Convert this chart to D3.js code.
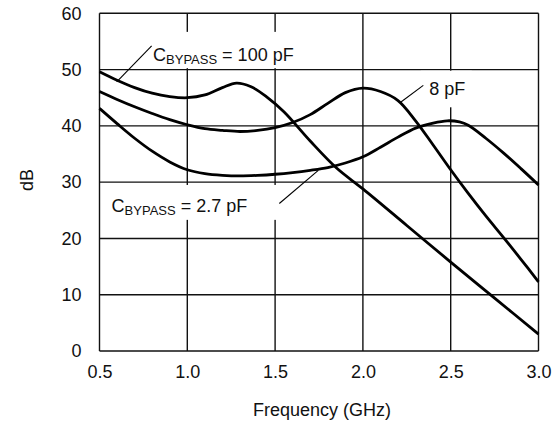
<!DOCTYPE html>
<html>
<head>
<meta charset="utf-8">
<script src="https://cdn.jsdelivr.net/npm/d3@7"></script>
<style>
  html, body { margin: 0; padding: 0; background: #fff; }
  svg { display: block; }
  text { font-family: "Liberation Sans Narrow", "Arial Narrow", "Liberation Sans", Arial, sans-serif; fill: #111; }
</style>
</head>
<body>
<svg id="chart" width="558" height="427"></svg>
<script>
// ---- data ----
const xTicks = [0.5, 1.0, 1.5, 2.0, 2.5, 3.0];
const yTicks = [0, 10, 20, 30, 40, 50, 60];

const freq100 = [0.5, 0.6, 0.7, 0.8, 0.9, 1.0, 1.1, 1.2, 1.28, 1.36, 1.45, 1.55, 1.7, 1.85, 2.0, 2.25, 2.5, 2.75, 3.0];
const db100   = [49.6, 48.1, 46.8, 45.8, 45.2, 45.0, 45.5, 46.8, 47.6, 47.0, 45.2, 42.5, 37.3, 32.5, 28.8, 22.3, 15.8, 9.4, 3.0];

const freq8 = [0.5, 0.6, 0.7, 0.8, 0.9, 1.0, 1.1, 1.2, 1.3, 1.4, 1.5, 1.6, 1.7, 1.8, 1.9, 2.0, 2.1, 2.2, 2.3, 2.4, 2.5, 2.6, 2.7, 2.8, 2.9, 3.0];
const db8   = [46.1, 44.7, 43.4, 42.2, 41.1, 40.2, 39.5, 39.2, 39.0, 39.2, 39.7, 40.6, 42.0, 44.0, 45.9, 46.7, 46.1, 44.5, 40.9, 36.6, 32.2, 28.0, 24.0, 20.2, 16.3, 12.3];

const freq27 = [0.5, 0.6, 0.7, 0.8, 0.9, 1.0, 1.1, 1.2, 1.3, 1.4, 1.5, 1.6, 1.7, 1.8, 1.9, 2.0, 2.1, 2.2, 2.3, 2.4, 2.48, 2.55, 2.6, 2.7, 2.8, 2.9, 3.0];
const db27   = [43.1, 40.4, 37.8, 35.5, 33.6, 32.2, 31.5, 31.2, 31.1, 31.2, 31.4, 31.7, 32.1, 32.6, 33.4, 34.5, 36.2, 38.0, 39.6, 40.5, 40.9, 40.7, 40.1, 37.8, 35.2, 32.4, 29.5];

const seriesNames = ["100 pF", "8 pF", "2.7 pF"];

// ---- layout ----
const FS = 18;
const svg = d3.select("#chart");
const x = d3.scaleLinear().domain([0.5, 3.0]).range([99.5, 538.5]);
const y = d3.scaleLinear().domain([0, 60]).range([351, 13.3]);

const gridStroke = "#111";

// grid
const grid = svg.append("g");
grid.selectAll("line.v").data(xTicks).join("line")
  .attr("x1", d => x(d)).attr("x2", d => x(d))
  .attr("y1", y(0)).attr("y2", y(60))
  .attr("stroke", gridStroke).attr("stroke-width", 1.4);
grid.selectAll("line.h").data(yTicks).join("line")
  .attr("x1", x(0.5)).attr("x2", x(3.0))
  .attr("y1", d => y(d)).attr("y2", d => y(d))
  .attr("stroke", gridStroke).attr("stroke-width", 1.4);

// label gaps in the grid (white knock-outs)
const gaps = [
  { f0: 0.72, f1: 1.62, d0: 50.25, d1: 56.7 },
  { f0: 0.55, f1: 1.60, d0: 23.3, d1: 29.5 },
  { f0: 2.33, f1: 2.62, d0: 43.3, d1: 49.8 }
];
svg.append("g").selectAll("rect").data(gaps).join("rect")
  .attr("x", d => x(d.f0)).attr("width", d => x(d.f1) - x(d.f0))
  .attr("y", d => y(d.d1)).attr("height", d => y(d.d0) - y(d.d1))
  .attr("fill", "#fff");

// axes (labels only)
const fmt = d3.format(".1f");
const xAxis = svg.append("g").attr("transform", `translate(0,${y(0)})`)
  .call(d3.axisBottom(x).tickValues(xTicks).tickFormat(fmt).tickSize(0).tickPadding(14));
const yAxis = svg.append("g").attr("transform", `translate(${x(0.5)},0)`)
  .call(d3.axisLeft(y).tickValues(yTicks).tickFormat(d3.format("d")).tickSize(0).tickPadding(18));
[xAxis, yAxis].forEach(a => {
  a.select(".domain").remove();
  a.selectAll("text").attr("font-size", FS).attr("font-family", null).style("fill", "#111");
});

// curves
const line = d3.line().x(d => x(d[0])).y(d => y(d[1])).curve(d3.curveCatmullRom.alpha(0.5));
const series = [
  d3.zip(freq100, db100),
  d3.zip(freq8, db8),
  d3.zip(freq27, db27)
];
svg.append("g").selectAll("path").data(series).join("path")
  .attr("d", line)
  .attr("fill", "none").attr("stroke", "#000").attr("stroke-width", 2.8)
  .attr("stroke-linejoin", "round");

// leader lines
const leaders = [
  [[0.797, 54.2], [0.598, 47.8]],
  [[2.344, 47.2], [2.211, 44.1]],
  [[1.524, 26.2], [1.746, 32.1]]
];
svg.append("g").selectAll("line").data(leaders).join("line")
  .attr("x1", d => x(d[0][0])).attr("y1", d => y(d[0][1]))
  .attr("x2", d => x(d[1][0])).attr("y2", d => y(d[1][1]))
  .attr("stroke", "#000").attr("stroke-width", 1.1);

// annotation labels
function bypassLabel(fx, dy, value) {
  const t = svg.append("text").attr("x", x(fx)).attr("y", y(dy)).attr("font-size", FS);
  t.append("tspan").text("C");
  t.append("tspan").attr("font-size", 13).attr("dy", 3).text("BYPASS");
  t.append("tspan").attr("dy", -3).text(" = " + value);
}
bypassLabel(0.805, 51.5, seriesNames[0]);
bypassLabel(0.569, 24.7, seriesNames[2]);
svg.append("text").attr("x", x(2.378)).attr("y", y(45.5)).attr("font-size", FS).text(seriesNames[1]);

// axis titles
svg.append("text").attr("x", 322).attr("y", 416).attr("text-anchor", "middle")
  .attr("font-size", FS).text("Frequency (GHz)");
svg.append("text").attr("transform", "translate(33,180) rotate(-90)").attr("text-anchor", "middle")
  .attr("font-size", FS).text("dB");
</script>
</body>
</html>
